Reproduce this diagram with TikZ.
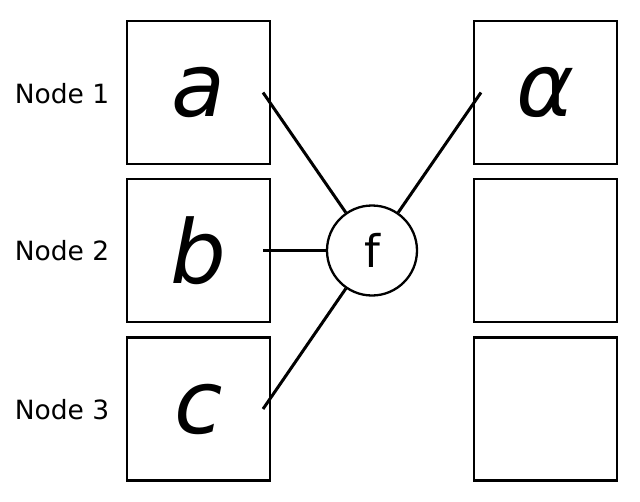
\documentclass[tikz,border=0pt]{standalone}
\usepackage{fontspec}
\setmainfont{DejaVu Sans}
\begin{document}
\begin{tikzpicture}[x=1pt,y=-1pt,
  box/.style={draw, line width=2.3pt, minimum size=143pt, inner sep=0pt, font=\fontsize{88}{88}\selectfont\itshape},
  fnode/.style={draw, circle, line width=2.3pt, minimum size=90pt, inner sep=0pt, font=\fontsize{45}{45}\selectfont},
  lbl/.style={inner sep=0pt, font=\fontsize{26.5}{26.5}\selectfont},
  conn/.style={line width=3pt}]
\useasboundingbox (0,0) rectangle (640,501);
\node[box] (a) at (198.5,92.5) {a};
\node[box] (b) at (198.5,250.5) {b};
\node[box] (c) at (198.5,409) {c};
\node[box] (al) at (545.5,92.5) {α};
\node[box] (e2) at (545.5,250.5) {};
\node[box] (e3) at (545.5,409) {};
\node[lbl] (l1) at (62,94) {Node 1};
\node[lbl] (l2) at (62,251) {Node 2};
\node[lbl] (l3) at (62,410) {Node 3};
\node[fnode] (f) at (372,250.5) {f};
\coordinate (pa) at (263,92.5);
\coordinate (pb) at (263,250.5);
\coordinate (pc) at (263,409);
\coordinate (pal) at (481,92.5);
\draw[conn] (pa) -- (f);
\draw[conn] (pb) -- (f);
\draw[conn] (pc) -- (f);
\draw[conn] (f) -- (pal);
\end{tikzpicture}
\end{document}
